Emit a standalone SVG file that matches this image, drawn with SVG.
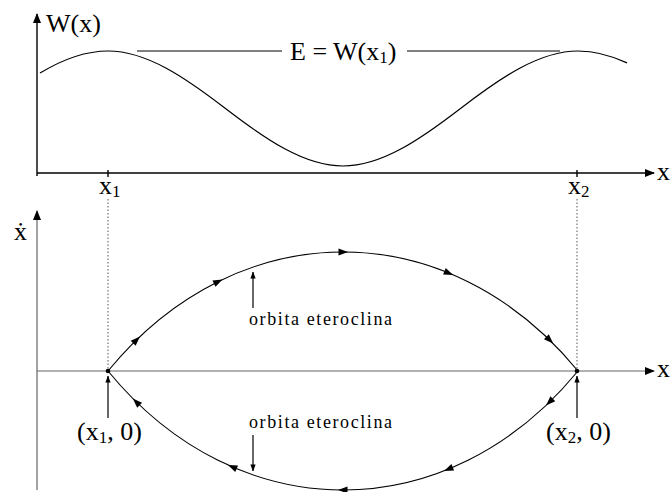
<svg xmlns="http://www.w3.org/2000/svg" width="671" height="492" viewBox="0 0 671 492">
<style>
text{font-family:"Liberation Serif","Times New Roman",serif;fill:#000}
.big{font-size:26px}
.lab{font-size:18px;letter-spacing:1.6px}
.sub{font-size:17px}
.axis{stroke:#000;stroke-width:1.4;fill:none}
.paxis{stroke:#666;stroke-width:1.2;fill:none}
.curve{stroke:#000;stroke-width:1.2;fill:none}
.orbit{stroke:#000;stroke-width:1.1;fill:none}
.dot{stroke:#555;stroke-width:1;stroke-dasharray:1.5 2;fill:none}
.ptr{stroke:#000;stroke-width:1.2;fill:none}
</style>
<defs>
<marker id="ah" viewBox="0 0 10 8" refX="9" refY="4" markerWidth="10" markerHeight="8" markerUnits="userSpaceOnUse" orient="auto"><path d="M0,0 L10,4 L0,8 z" fill="#000"/></marker>
<marker id="ahs" viewBox="0 0 8 6" refX="7.5" refY="3" markerWidth="7" markerHeight="6" markerUnits="userSpaceOnUse" orient="auto"><path d="M0,0 L8,3 L0,6 z" fill="#000"/></marker>
<path id="tri" d="M5,0 L-4.5,-3.5 L-4.5,3.5 z" fill="#000"/>
</defs>

<g id="potential-graph">
<line class="axis" x1="37" y1="176" x2="37" y2="14" marker-end="url(#ah)"/>
<line class="axis" x1="37" y1="173" x2="654" y2="173" marker-end="url(#ah)"/>
<line class="axis" x1="108" y1="170" x2="108" y2="177"/>
<line class="axis" x1="577" y1="170" x2="577" y2="177"/>
<text class="big" x="46" y="32">W(x)</text>
<text class="big" x="657" y="180">x</text>
<text class="big" x="99" y="194">x<tspan class="sub" dy="3">1</tspan></text>
<text class="big" x="568" y="194">x<tspan class="sub" dy="3">2</tspan></text>
<path class="curve" d="M40,73.1 C62.67,59.35 85.33,51 108,51 C147.17,51 186.33,78.39 225.5,108.5 C264.67,138.61 303.83,166 343,166 C382.17,166 421.33,138.61 460.5,108.5 C499.67,78.39 538.83,51 578,51 C594.33,51 610.67,55.25 627,62.9"/>
<line class="curve" x1="137" y1="51" x2="282" y2="51"/>
<line class="curve" x1="407" y1="51" x2="560" y2="51"/>
<text class="big" x="290" y="60">E = W(x<tspan class="sub" dy="3">1</tspan><tspan dy="-3">)</tspan></text>
</g>

<g id="guides">
<line class="dot" x1="108" y1="199" x2="108" y2="369"/>
<line class="dot" x1="577" y1="199" x2="577" y2="369"/>
</g>

<g id="phase-plane">
<line class="paxis" x1="37" y1="490" x2="37" y2="211" marker-end="url(#ah)"/>
<line class="paxis" x1="37" y1="371" x2="654" y2="371" marker-end="url(#ah)"/>
<text class="big" x="14" y="240">ẋ</text>
<text class="big" x="657" y="377">x</text>
</g>

<g id="connectors">
<path class="orbit" d="M108,371 C238,212.3 448,212.3 578,371"/>
<path class="orbit" d="M108,371 C238,529.7 448,529.7 578,371"/>
<use href="#tri" transform="translate(136.4,340) rotate(-44.2)"/>
<use href="#tri" transform="translate(218,281.7) rotate(-26.4)"/>
<use href="#tri" transform="translate(343,252) rotate(0)"/>
<use href="#tri" transform="translate(448.6,273) rotate(22.2)"/>
<use href="#tri" transform="translate(549.6,340) rotate(44.2)"/>
<use href="#tri" transform="translate(549.6,402) rotate(135.8)"/>
<use href="#tri" transform="translate(448.6,469) rotate(157.8)"/>
<use href="#tri" transform="translate(343,490) rotate(180)"/>
<use href="#tri" transform="translate(232.5,467) rotate(203.3)"/>
<use href="#tri" transform="translate(136.4,402) rotate(224.2)"/>
<line class="ptr" x1="253" y1="308" x2="253" y2="272" marker-end="url(#ahs)"/>
<line class="ptr" x1="253" y1="435" x2="253" y2="471" marker-end="url(#ahs)"/>
<line class="ptr" x1="108" y1="418" x2="108" y2="376" marker-end="url(#ahs)"/>
<line class="ptr" x1="577" y1="418" x2="577" y2="376" marker-end="url(#ahs)"/>
</g>

<g id="point-x1">
<circle cx="108" cy="371" r="2.3" fill="#000"/>
<text class="big" x="77" y="440">(x<tspan class="sub" dy="3">1</tspan><tspan dy="-3">, 0)</tspan></text>
</g>
<g id="point-x2">
<circle cx="577" cy="371" r="2.3" fill="#000"/>
<text class="big" x="546" y="440">(x<tspan class="sub" dy="3">2</tspan><tspan dy="-3">, 0)</tspan></text>
</g>
<g id="label-upper">
<text class="lab" x="249" y="325">orbita eteroclina</text>
</g>
<g id="label-lower">
<text class="lab" x="249" y="428">orbita eteroclina</text>
</g>
</svg>
